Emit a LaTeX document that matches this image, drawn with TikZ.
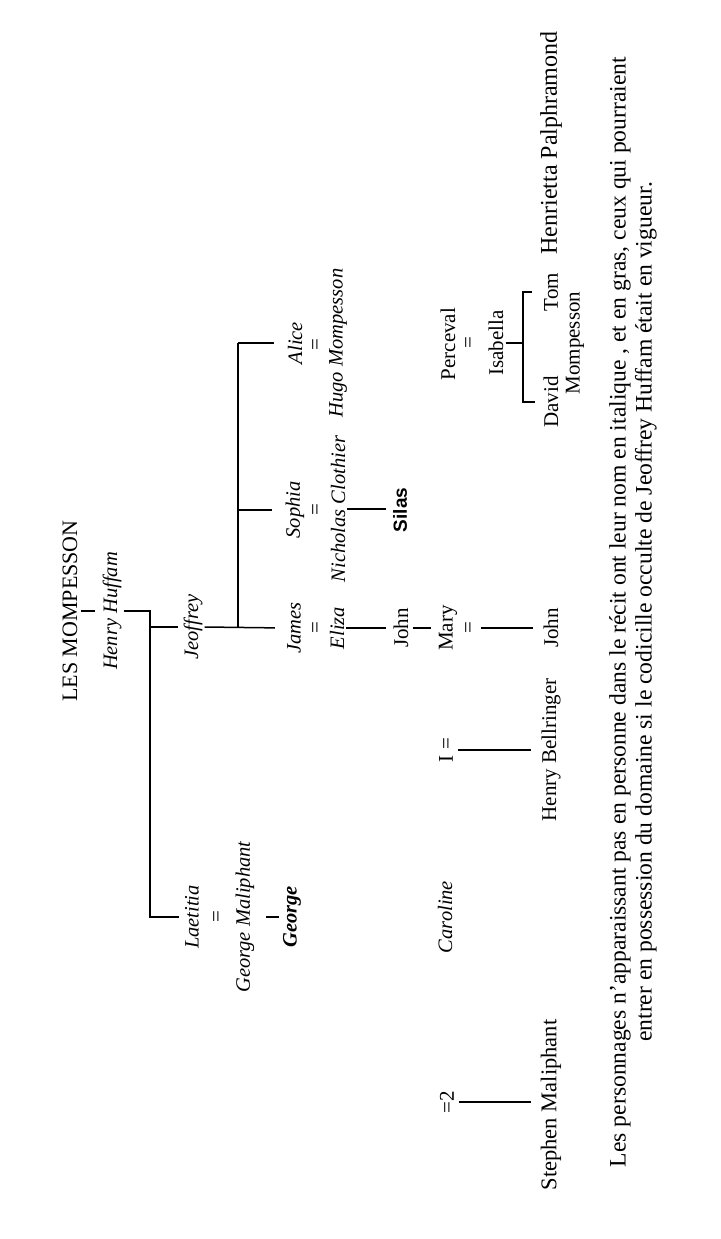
\documentclass[tikz,border=0pt]{standalone}
\usepackage{fontspec}
\setmainfont{Liberation Serif}
\setsansfont{Liberation Sans}
\usepackage{tikz}
\usetikzlibrary{positioning,calc}

\newcommand\namesize{\fontsize{21}{24}\selectfont}
\newcommand\italsize{\fontsize{20.5}{24}\selectfont}

\begin{document}
\begin{tikzpicture}[
    x=1pt, y=-1pt,
    person/.style={rotate=90, inner sep=2pt, font=\namesize},
    ital/.style={person, font=\italsize\itshape},
    gone/.style={person, font=\italsize\bfseries\itshape},
    alive/.style={person, font=\sffamily\bfseries\fontsize{19}{22}\selectfont},
    link/.style={line width=1.5pt}
  ]
  \useasboundingbox[fill=white] (0,0) rectangle (720,1239);

  % first generations
  \node[person, font=\fontsize{22}{26}\selectfont] (title) at (70,611) {LES MOMPESSON};
  \node[ital] (henry) at (112,611) {Henry Huffam};
  \node[ital] (jeoffrey) at (193,627) {Jeoffrey};
  \node[ital] (laetitia) at (192,917) {Laetitia};
  \node[person] (eqL) at (218,917) {=};
  \node[ital] (georgem) at (245,917) {George Maliphant};
  \node[gone] (georgeb) at (292,917) {George};

  % children of Jeoffrey
  \node[ital] (james) at (294,628) {James};
  \node[person] (eqJ) at (317,628) {=};
  \node[ital] (eliza) at (337,628) {Eliza};
  \node[person] (john1) at (401,628) {John};
  \node[person] (mary) at (448,628) {Mary};
  \node[person] (eqM) at (470,628) {=};
  \node[person] (john2) at (551,628) {John};
  \node[ital] (sophia) at (295,510) {Sophia};
  \node[person] (eqS) at (317,510) {=};
  \node[ital] (nicholas) at (338,509) {Nicholas Clothier};
  \node[alive] (silas) at (400,510) {Silas};
  \node[ital] (alice) at (295,343) {Alice};
  \node[person] (eqA) at (317,345) {=};
  \node[ital] (hugo) at (338,343) {Hugo Mompesson};

  % Perceval line
  \node[person] (perceval) at (448,344) {Perceval};
  \node[person] (eqP) at (470,343) {=};
  \node[person] (isabella) at (496,343) {Isabella};
  \node[person] (david) at (551,402) {David};
  \node[person] (tom) at (551,292) {Tom};
  \node[person] (mompesson) at (575,343) {Mompesson};
  \node[person, font=\fontsize{24}{28}\selectfont] (henrietta) at (551,143) {Henrietta Palphramond};

  % Caroline
  \node[ital] (caroline) at (445,917) {Caroline};
  \node[person] (one) at (446,750) {I =};
  \node[person] (bellringer) at (551,750) {Henry Bellringer};
  \node[person] (two) at (447,1102) {=2};
  \node[person, font=\fontsize{22.5}{26}\selectfont] (stephen) at (551,1105) {Stephen Maliphant};

  \node[rotate=90, align=center, font=\fontsize{23.6}{26}\selectfont] (caption) at (633,612)
    {Les personnages n'apparaissant pas en personne dans le récit ont leur nom en italique , et en gras, ceux qui pourraient\\
     entrer en possession du domaine si le codicille occulte de Jeoffrey Huffam était en vigueur.};

  \coordinate (fork1) at (150,0);
  \coordinate (fork2) at (238,0);
  \coordinate (brk) at (523,0);

  \draw[link, shorten <=1pt, shorten >=5pt] (title.south) -- (title.south -| henry.north);
  \draw[link, shorten >=4pt] (henry.south) -- (henry.south -| fork1) |- (laetitia.north);
  \draw[link, shorten >=3pt] (fork1 |- jeoffrey.north) -- (jeoffrey.north);
  \draw[link, shorten <=10pt, shorten >=2pt] (georgem.south) -- (georgem.south -| georgeb.north);

  \draw[link, shorten >=10pt] (jeoffrey.south) -- (james.north);
  \draw[link] (fork2 |- james.north) -- (fork2 |- alice.north);
  \draw[link, shorten >=12pt] (fork2 |- sophia.north) -- (sophia.north);
  \draw[link, shorten >=12pt] (fork2 |- alice.north) -- (alice.north);
  \draw[link, shorten >=5pt] (eliza.south) -- (john1.north);
  \draw[link, shorten <=2pt, shorten >=6pt] (john1.south) -- (mary.north);
  \draw[link, shorten <=4pt, shorten >=8pt] (eqM.south) -- (john2.north);
  \draw[link, shorten >=5pt] (nicholas.south) -- (nicholas.south -| silas.north);

  \draw[link] (isabella.south) -- (isabella.south -| brk);
  \draw[link] (tom.north) ++(-10,0) -- (brk |- tom.north) -- (brk |- david.north) -- ++(12,0);

  \draw[link, shorten <=3pt, shorten >=8pt] (one.south) -- (one.south -| bellringer.north);
  \draw[link, shorten <=3pt, shorten >=8pt] (two.south) -- (two.south -| stephen.north);
\end{tikzpicture}
\end{document}
